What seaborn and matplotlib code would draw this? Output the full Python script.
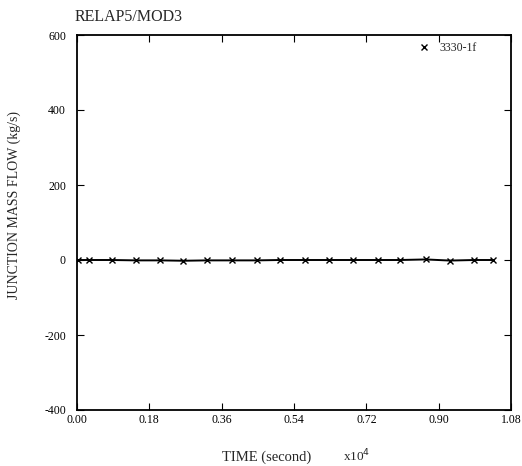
import matplotlib
matplotlib.use("Agg")
import matplotlib.pyplot as plt
import seaborn as sns
import pandas as pd

# Junction 3330-1f mass flow history (time in units of 1e4 s)
time_e4 = [0.003, 0.031, 0.086, 0.147, 0.207, 0.265, 0.324, 0.385, 0.447,
           0.505, 0.567, 0.628, 0.688, 0.750, 0.805, 0.868, 0.928, 0.989, 1.034]
flow_kgs = [0.0, 0.0, 0.0, -1.0, -1.0, -2.0, -1.0, -1.0, -1.0,
            0.0, 0.0, 0.0, 0.0, 0.0, 0.0, 1.5, -1.5, 0.0, 0.0]
series_label = "3330-1f"

x_ticks = [0.00, 0.18, 0.36, 0.54, 0.72, 0.90, 1.08]
y_ticks = [-400, -200, 0, 200, 400, 600]

sns.set_theme(style="ticks")
plt.rcParams["font.family"] = ["Liberation Serif", "DejaVu Serif"]

df = pd.DataFrame({"time": time_e4, "flow": flow_kgs, "junction": series_label})

fig = plt.figure(figsize=(5.22, 4.66), dpi=100)
ax = fig.add_axes([77 / 522, 1 - 410 / 466, 434 / 522, 375 / 466])

sns.lineplot(data=df, x="time", y="flow", hue="junction", palette=["black"],
             marker="x", markersize=5, markeredgewidth=1.0, markeredgecolor="black",
             linewidth=1.4, ax=ax, legend=True)

ax.set_xlim(0, 1.08)
ax.set_ylim(-400, 600)
ax.set_xticks(x_ticks)
ax.set_xticklabels([f"{v:.2f}" for v in x_ticks], fontsize=8.5)
ax.set_yticks(y_ticks)
ax.set_yticklabels([str(v) for v in y_ticks], fontsize=8.5)
ax.tick_params(axis="x", direction="in", length=5, width=0.8, top=True,
               colors="black", pad=3)
ax.tick_params(axis="y", direction="in", length=5, width=0.8, right=True,
               colors="black", pad=8)
for s in ax.spines.values():
    s.set_color("black")
    s.set_linewidth(1.3)

ax.set_xlabel("")
ax.set_ylabel("")

leg = ax.legend(loc="upper right", frameon=False, fontsize=8.5, handlelength=0.8,
                handletextpad=0.9, borderaxespad=0.0,
                bbox_to_anchor=(481 / 522, 1 - 37 / 466), bbox_transform=fig.transFigure)
for h in leg.legend_handles:
    h.set_linestyle("none")

fig.text(75 / 522, 1 - 17 / 466, "RELAP5/MOD3", fontsize=11.5, va="center", ha="left")
fig.text(14 / 522, 1 - 205 / 466, "JUNCTION MASS FLOW (kg/s)", fontsize=10,
         rotation=90, va="center", ha="center")
fig.text(267 / 522, 1 - 457 / 466, "TIME (second)", fontsize=10.5, va="center", ha="center")
fig.text(343 / 522, 1 - 456 / 466, r"x10$^4$", fontsize=9.5, va="center", ha="left")

fig.savefig("out.png", dpi=100, facecolor="white")
